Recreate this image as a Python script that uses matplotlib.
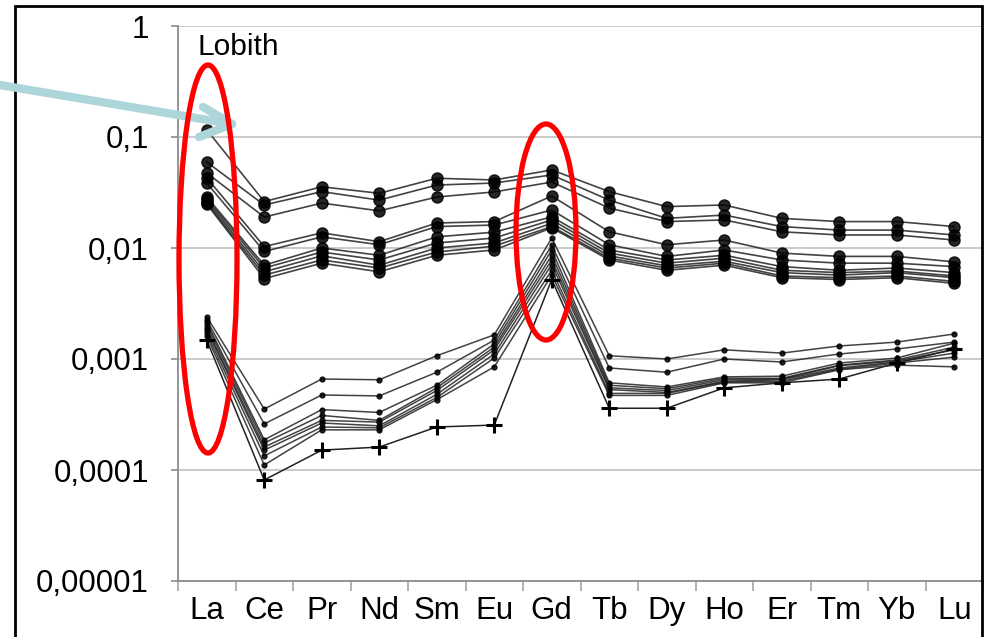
import matplotlib
matplotlib.use("Agg")
import matplotlib.pyplot as plt
from matplotlib.lines import Line2D
from matplotlib.patches import Ellipse, Rectangle
from matplotlib.ticker import FixedLocator, NullFormatter

plt.rcParams['font.family'] = ['Liberation Sans', 'DejaVu Sans']

# Rare earth elements (x categories)
elements = ['La', 'Ce', 'Pr', 'Nd', 'Sm', 'Eu', 'Gd', 'Tb', 'Dy', 'Ho', 'Er', 'Tm', 'Yb', 'Lu']

# upper samples (big dots)
upper_series = [
    [0.116, 0.0262, 0.0356, 0.0311, 0.0425, 0.041, 0.0505, 0.0322, 0.0236, 0.0244, 0.0185, 0.0173, 0.0173, 0.0156],
    [0.0595, 0.0244, 0.0322, 0.027, 0.0369, 0.0385, 0.0455, 0.027, 0.0185, 0.0198, 0.0156, 0.0145, 0.0145, 0.0131],
    [0.0474, 0.019, 0.0254, 0.0216, 0.0288, 0.032, 0.0393, 0.0229, 0.0173, 0.0179, 0.014, 0.0131, 0.0131, 0.0118],
    [0.0428, 0.0103, 0.0137, 0.0114, 0.0168, 0.0173, 0.0294, 0.014, 0.0107, 0.0118, 0.009, 0.0084, 0.0084, 0.0075],
    [0.0385, 0.0093, 0.0126, 0.0107, 0.0156, 0.0161, 0.022, 0.0107, 0.0084, 0.0096, 0.0078, 0.0073, 0.0073, 0.0068],
    [0.0288, 0.007, 0.01, 0.0086, 0.0126, 0.0139, 0.0191, 0.0096, 0.0078, 0.0086, 0.0068, 0.0063, 0.0066, 0.006],
    [0.0276, 0.0066, 0.0092, 0.0078, 0.0111, 0.0123, 0.0179, 0.009, 0.0073, 0.0081, 0.0063, 0.006, 0.0062, 0.0056],
    [0.0265, 0.0061, 0.0085, 0.007, 0.01, 0.0111, 0.0167, 0.0085, 0.0069, 0.0076, 0.006, 0.0057, 0.006, 0.0054],
    [0.0254, 0.0057, 0.0078, 0.0066, 0.0092, 0.0104, 0.0156, 0.0081, 0.0066, 0.0073, 0.0056, 0.0054, 0.0056, 0.005],
    [0.0249, 0.0053, 0.0073, 0.0061, 0.0086, 0.0096, 0.0152, 0.0078, 0.0063, 0.007, 0.0054, 0.0052, 0.0054, 0.0048],
]

# lower samples (small dots)
lower_series = [
    [0.0024, 0.000354, 0.00066, 0.00065, 0.00107, 0.00165, 0.0123, 0.00107, 0.001, 0.00121, 0.00113, 0.00131, 0.00142, 0.00168],
    [0.00224, 0.00026, 0.000474, 0.000465, 0.00076, 0.00148, 0.0106, 0.00083, 0.00076, 0.001, 0.00094, 0.00111, 0.00123, 0.00142],
    [0.00215, 0.000187, 0.00035, 0.00033, 0.00058, 0.00137, 0.0096, 0.00061, 0.00056, 0.00069, 0.0007, 0.00092, 0.00102, 0.00139],
    [0.00203, 0.000175, 0.00031, 0.00028, 0.00055, 0.00128, 0.0086, 0.00058, 0.00054, 0.00067, 0.00067, 0.00088, 0.00098, 0.00128],
    [0.0019, 0.000161, 0.00028, 0.00027, 0.00052, 0.00121, 0.0078, 0.00055, 0.00052, 0.00065, 0.00066, 0.00087, 0.00096, 0.00121],
    [0.00183, 0.000151, 0.000265, 0.00025, 0.00048, 0.00111, 0.0071, 0.00053, 0.0005, 0.00063, 0.00065, 0.00083, 0.00094, 0.00113],
    [0.00171, 0.000134, 0.000244, 0.00024, 0.00045, 0.00102, 0.0063, 0.00049, 0.00049, 0.00062, 0.00063, 0.00081, 0.00092, 0.00104],
    [0.00161, 0.000111, 0.00023, 0.00023, 0.00043, 0.00085, 0.0057, 0.00047, 0.00047, 0.00061, 0.00061, 0.0008, 0.00088, 0.00085],
]

# the one sample drawn with plus markers
plus_series = [0.00148, 0.0000813, 0.000151, 0.000161, 0.000244, 0.000254, 0.0052, 0.00036, 0.00036, 0.00055, 0.00061, 0.00066, 0.00092, 0.00123]

ytick_vals = [1, 0.1, 0.01, 0.001, 0.0001, 0.00001]
ytick_labels = ['1', '0,1', '0,01', '0,001', '0,0001', '0,00001']

W, H = 986, 637
fig = plt.figure(figsize=(W / 100, H / 100), dpi=100)
ax = fig.add_axes([178 / W, 1 - 581 / H, (983 - 178) / W, (581 - 26) / H])

x = list(range(len(elements)))
for s in upper_series:
    ax.plot(x, s, color='#222222', lw=1.2, alpha=0.85, marker='o', ms=8,
            mfc='black', mec='black', zorder=3)
for s in lower_series:
    ax.plot(x, s, color='#222222', lw=1.1, alpha=0.85, marker='o', ms=3.5,
            mfc='black', mec='black', zorder=3)
ax.plot(x, plus_series, color='#222222', lw=1.1, marker='+', ms=12, mew=2.2,
        mec='black', zorder=3)

ax.set_yscale('log')
ax.set_ylim(1e-5, 1)
ax.set_xlim(-0.5, len(elements) - 0.5)

ax.yaxis.set_major_locator(FixedLocator(ytick_vals))
ax.set_yticklabels(ytick_labels)
ax.yaxis.set_minor_locator(FixedLocator([]))
ax.set_xticks(x)
ax.set_xticklabels(elements)
ax.set_xticks([i - 0.5 for i in range(len(elements) + 1)], minor=True)
ax.xaxis.set_minor_formatter(NullFormatter())

ax.tick_params(axis='y', which='major', labelsize=22.5, length=5, width=1.2,
               color='#8c8c8c', pad=16)
ax.tick_params(axis='x', which='major', labelsize=22.5, length=0, pad=11)
ax.tick_params(axis='x', which='minor', length=7, width=1.2, color='#a6a6a6')

ax.grid(True, axis='y', which='major', color='#c6c6c6', lw=1.3)
for side in ['top', 'right']:
    ax.spines[side].set_visible(False)
for side in ['left', 'bottom']:
    ax.spines[side].set_color('#8c8c8c')
    ax.spines[side].set_linewidth(1.3)
ax.set_axisbelow(True)

ax.text(0.024, 0.962, 'Lobith', transform=ax.transAxes, fontsize=21.5,
        ha='left', va='center')

# outer frame
fig.add_artist(Rectangle((15 / W, -0.02), (982 - 15) / W, 1.02 - 6 / H,
                         transform=fig.transFigure, fill=False,
                         ec='black', lw=2, zorder=10))

# light blue arrow
blue = '#acd6da'
arrow_lines = [((0, 85), (232, 124)), ((203, 107), (232, 124)), ((199, 137), (232, 124))]
for (x0, y0), (x1, y1) in arrow_lines:
    fig.add_artist(Line2D([x0 / W, x1 / W], [1 - y0 / H, 1 - y1 / H],
                          transform=fig.transFigure, color=blue, lw=6,
                          solid_capstyle='round', zorder=11))

# red ellipses
fig.add_artist(Ellipse((208 / W, 1 - 259 / H), 58 / W, 388 / H,
                       transform=fig.transFigure, fill=False, ec='#ff0000',
                       lw=3.8, zorder=12))
fig.add_artist(Ellipse((546 / W, 1 - 232 / H), 60 / W, 216 / H,
                       transform=fig.transFigure, fill=False, ec='#ff0000',
                       lw=3.8, zorder=12))

fig.savefig('out.png', dpi=100)
